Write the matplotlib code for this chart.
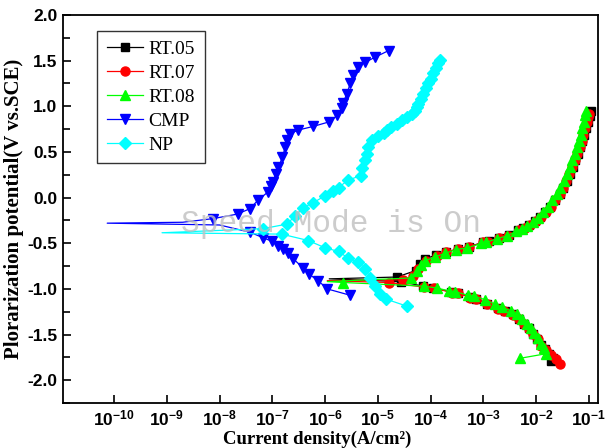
import numpy as np
import matplotlib
matplotlib.use("Agg")
import matplotlib.pyplot as plt

plt.rcParams["font.family"] = ["Liberation Serif", "DejaVu Serif"]
plt.rcParams["mathtext.fontset"] = "custom"
plt.rcParams["mathtext.rm"] = "Liberation Sans:bold"
plt.rcParams["mathtext.default"] = "rm"

# --- data (scan order: cathodic -> Ecorr -> anodic) ---
# each series: cathodic branch, the low-current point at Ecorr (no marker), anodic branch
rt05_cat_i = [0.019, 0.021, 0.0175, 0.0145, 0.0122, 0.0105, 0.0088, 0.0074, 0.006, 0.0048, 0.0036,
              0.0026, 0.0019, 0.0012, 7.4e-4, 5.6e-4, 3.3e-4, 2.4e-4, 1.1e-4, 7.3e-5, 2.7e-5]
rt05_cat_e = [-1.79, -1.76, -1.71, -1.66, -1.61, -1.55, -1.49, -1.43, -1.38, -1.33, -1.28,
              -1.24, -1.21, -1.16, -1.11, -1.09, -1.04, -1.03, -0.99, -0.97, -0.92]
rt05_min = (1.2e-6, -0.89)
rt05_an_i = [2.3e-5, 5.2e-5, 6.2e-5, 8.0e-5, 1.25e-4, 2.0e-4, 3.3e-4, 5.3e-4, 9.8e-4, 1.3e-3, 2.0e-3,
             3.1e-3, 4.6e-3, 5.7e-3, 7.3e-3, 9.5e-3, 0.0118, 0.0148, 0.0185, 0.0225, 0.028, 0.032,
             0.038, 0.044, 0.05, 0.056, 0.062, 0.069, 0.076, 0.083, 0.09, 0.097, 0.104, 0.112]
rt05_an_e = [-0.87, -0.80, -0.73, -0.67, -0.63, -0.60, -0.56, -0.54, -0.49, -0.48, -0.44,
             -0.41, -0.36, -0.33, -0.30, -0.26, -0.21, -0.16, -0.10, -0.03, 0.04, 0.11,
             0.18, 0.26, 0.33, 0.41, 0.48, 0.55, 0.62, 0.69, 0.76, 0.83, 0.89, 0.95]

rt07_cat_i = [0.028, 0.024, 0.019, 0.0155, 0.0123, 0.011, 0.0088, 0.0075, 0.006, 0.0047, 0.0036,
              0.0025, 0.0019, 0.0012, 7.2e-4, 5.7e-4, 3.3e-4, 2.5e-4, 1.15e-4, 7.5e-5, 1.6e-5]
rt07_cat_e = [-1.82, -1.77, -1.72, -1.67, -1.62, -1.55, -1.49, -1.44, -1.38, -1.33, -1.29,
              -1.24, -1.22, -1.16, -1.11, -1.10, -1.04, -1.04, -0.99, -0.98, -0.93]
rt07_min = (1.1e-6, -0.91)
rt07_an_i = [3.0e-5, 4.7e-5, 5.8e-5, 8.2e-5, 1.3e-4, 2.0e-4, 3.3e-4, 5.4e-4, 1.0e-3, 1.25e-3, 2.0e-3,
             3.0e-3, 4.7e-3, 6.2e-3, 7.6e-3, 9.8e-3, 0.0122, 0.0152, 0.019, 0.023, 0.028, 0.032,
             0.037, 0.043, 0.049, 0.054, 0.06, 0.067, 0.073, 0.079, 0.085, 0.091, 0.097, 0.103]
rt07_an_e = [-0.90, -0.86, -0.78, -0.69, -0.64, -0.60, -0.56, -0.54, -0.49, -0.49, -0.44,
             -0.42, -0.36, -0.33, -0.30, -0.26, -0.21, -0.16, -0.10, -0.03, 0.04, 0.11,
             0.18, 0.26, 0.33, 0.41, 0.48, 0.55, 0.62, 0.69, 0.76, 0.83, 0.88, 0.92]

rt08_cat_i = [5.0e-3, 0.0155, 0.0142, 0.0125, 0.0108, 0.0093, 0.008, 0.0067, 0.0055, 0.0043, 0.0033,
              0.0023, 0.0017, 0.0011, 6.8e-4, 5.2e-4, 2.9e-4, 2.2e-4, 1.3e-4, 7.5e-5, 2.2e-6]
rt08_cat_e = [-1.76, -1.71, -1.65, -1.60, -1.54, -1.48, -1.43, -1.38, -1.33, -1.28, -1.24,
              -1.20, -1.17, -1.12, -1.08, -1.07, -1.03, -1.02, -0.99, -0.97, -0.93]
rt08_min = (1.1e-6, -0.92)
rt08_an_i = [4.3e-5, 5.5e-5, 6.5e-5, 8.0e-5, 1.2e-4, 1.9e-4, 3.0e-4, 5.0e-4, 9.2e-4, 1.15e-3, 1.8e-3,
             2.8e-3, 4.2e-3, 5.5e-3, 6.8e-3, 8.6e-3, 0.0107, 0.0135, 0.0168, 0.0205, 0.025, 0.029,
             0.034, 0.039, 0.044, 0.049, 0.054, 0.06, 0.066, 0.071, 0.076, 0.081, 0.086, 0.09]
rt08_an_e = [-0.88, -0.80, -0.74, -0.69, -0.65, -0.61, -0.57, -0.55, -0.50, -0.49, -0.45,
             -0.42, -0.37, -0.34, -0.31, -0.27, -0.22, -0.16, -0.10, -0.03, 0.04, 0.11,
             0.18, 0.26, 0.33, 0.41, 0.48, 0.55, 0.62, 0.69, 0.76, 0.83, 0.90, 0.95]

cmp_cat_i = [3.0e-6, 1.1e-6, 7.4e-7, 5.0e-7, 3.8e-7, 2.5e-7, 2.0e-7, 1.6e-7, 1.3e-7, 1.0e-7, 6.7e-8, 3.8e-8]
cmp_cat_e = [-1.07, -1.00, -0.91, -0.84, -0.77, -0.67, -0.61, -0.56, -0.53, -0.48, -0.44, -0.38]
cmp_min_i = [1.0e-8, 7.4e-11, 2.0e-9]
cmp_min_e = [-0.30, -0.28, -0.27]
cmp_an_i = [7.6e-9, 2.2e-8, 3.8e-8, 5.3e-8, 8.2e-8, 9.5e-8, 1.05e-7, 1.15e-7, 1.3e-7, 1.55e-7, 1.75e-7,
            1.9e-7, 2.2e-7, 3.1e-7, 6.0e-7, 1.2e-6, 1.7e-6, 2.1e-6, 2.2e-6, 2.6e-6, 3.0e-6, 3.4e-6,
            4.2e-6, 5.7e-6, 9.0e-6, 1.6e-5]
cmp_an_e = [-0.23, -0.18, -0.12, -0.03, 0.06, 0.13, 0.17, 0.26, 0.33, 0.44, 0.55,
            0.63, 0.70, 0.74, 0.78, 0.83, 0.90, 0.98, 1.04, 1.14, 1.25, 1.34,
            1.43, 1.48, 1.54, 1.61]

np_cat_i = [3.6e-5, 1.4e-5, 1.1e-5, 8.9e-6, 7.2e-6, 5.8e-6, 4.3e-6, 2.7e-6, 1.8e-6, 1.0e-6, 4.8e-7, 1.5e-7]
np_cat_e = [-1.19, -1.11, -1.06, -0.97, -0.88, -0.78, -0.71, -0.66, -0.59, -0.55, -0.47, -0.40]
np_min = (8.1e-10, -0.385)
np_an_i = [6.7e-8, 1.9e-7, 2.7e-7, 3.9e-7, 6.0e-7, 1.0e-6, 1.4e-6, 1.8e-6, 2.7e-6, 4.7e-6, 5.1e-6,
           5.8e-6, 6.3e-6, 6.6e-6, 7.9e-6, 1.02e-5, 1.3e-5, 1.5e-5, 1.8e-5, 2.3e-5, 2.9e-5, 3.6e-5,
           4.4e-5, 5.1e-5, 5.5e-5, 5.9e-5, 6.5e-5, 7.3e-5, 8.2e-5, 9.1e-5, 1.0e-4, 1.13e-4, 1.25e-4,
           1.4e-4, 1.54e-4]
np_an_e = [-0.34, -0.29, -0.20, -0.11, -0.055, 0.02, 0.077, 0.11, 0.19, 0.24, 0.32,
           0.41, 0.48, 0.55, 0.63, 0.68, 0.71, 0.74, 0.77, 0.81, 0.85, 0.88,
           0.92, 0.95, 0.99, 1.03, 1.08, 1.14, 1.20, 1.25, 1.30, 1.36, 1.42,
           1.47, 1.51]

labels = ["RT.05", "RT.07", "RT.08", "CMP", "NP"]
colors = ["#000000", "#ff0000", "#00ff00", "#0000ff", "#00ffff"]
markers = ["s", "o", "^", "v", "D"]
msizes = [6, 6.5, 7.5, 7.5, 6.5]

x_ticks = [1e-10, 1e-9, 1e-8, 1e-7, 1e-6, 1e-5, 1e-4, 1e-3, 1e-2, 1e-1]
x_ticklabels = [r"$10^{-%d}$" % k for k in range(10, 0, -1)]
y_ticks = [-2.0, -1.5, -1.0, -0.5, 0.0, 0.5, 1.0, 1.5, 2.0]
y_ticklabels = ["-2.0", "-1.5", "-1.0", "-0.5", "0.0", "0.5", "1.0", "1.5", "2.0"]


def build(cat_i, cat_e, min_i, min_e, an_i, an_e):
    i = list(cat_i) + list(min_i) + list(an_i)
    e = list(cat_e) + list(min_e) + list(an_e)
    # no marker on the Ecorr low-current points
    skip = range(len(cat_i), len(cat_i) + len(min_i))
    every = [k for k in range(len(i)) if k not in skip]
    return i, e, every


series = [
    build(rt05_cat_i, rt05_cat_e, [rt05_min[0]], [rt05_min[1]], rt05_an_i, rt05_an_e),
    build(rt07_cat_i, rt07_cat_e, [rt07_min[0]], [rt07_min[1]], rt07_an_i, rt07_an_e),
    build(rt08_cat_i, rt08_cat_e, [rt08_min[0]], [rt08_min[1]], rt08_an_i, rt08_an_e),
    build(cmp_cat_i, cmp_cat_e, cmp_min_i, cmp_min_e, cmp_an_i, cmp_an_e),
    build(np_cat_i, np_cat_e, [np_min[0]], [np_min[1]], np_an_i, np_an_e),
]

fig = plt.figure(figsize=(6.05, 4.48), dpi=100)
ax = fig.add_axes([0.104, 0.1004, 0.884, 0.8661])

for (i, e, every), lab, c, m, ms in zip(series, labels, colors, markers, msizes):
    ax.plot(i, e, color=c, lw=0.9, marker=m, markersize=ms, markevery=every,
            markerfacecolor=c, markeredgecolor=c, label=lab)

ax.set_xscale("log")
ax.set_xlim(1.07e-11, 0.148)
ax.set_ylim(-2.25, 2.0)

ax.set_xticks(x_ticks)
ax.set_xticklabels(x_ticklabels, fontsize=12.5)
ax.xaxis.set_minor_locator(matplotlib.ticker.NullLocator())
ax.set_yticks(y_ticks)
ax.set_yticklabels(y_ticklabels, fontsize=12.5, fontfamily="Liberation Sans", fontweight="bold")
ax.yaxis.set_minor_locator(matplotlib.ticker.MultipleLocator(0.25))
ax.tick_params(which="both", direction="in", top=False, right=False, width=1.2)
ax.tick_params(which="major", length=6)
ax.tick_params(axis="x", which="major", pad=5)
ax.tick_params(axis="y", which="major", pad=4)
ax.tick_params(which="minor", length=5)
for sp in ax.spines.values():
    sp.set_linewidth(1.3)

ax.set_xlabel("Current density(A/cm\u00b2)", fontsize=13.5, fontweight="bold")
ax.xaxis.set_label_coords(0.475, -0.071)
ax.set_ylabel("Plorarization potential(V vs.SCE)", fontsize=15, fontweight="bold", labelpad=2)

leg = ax.legend(loc="upper left", bbox_to_anchor=(0.0636, 0.959), borderaxespad=0, fontsize=14,
                frameon=True, fancybox=False, framealpha=1, edgecolor="#333333",
                handlelength=1.85, labelspacing=0.32, borderpad=0.5, handletextpad=0.3)
leg.get_frame().set_linewidth(1.0)

fig.text(0.547, 0.5, "Speed Mode is On", fontsize=22.5, family="Liberation Mono",
         color="#c0c0c0", alpha=0.8, ha="center", va="center", zorder=10)

fig.savefig("out.png", dpi=100)
